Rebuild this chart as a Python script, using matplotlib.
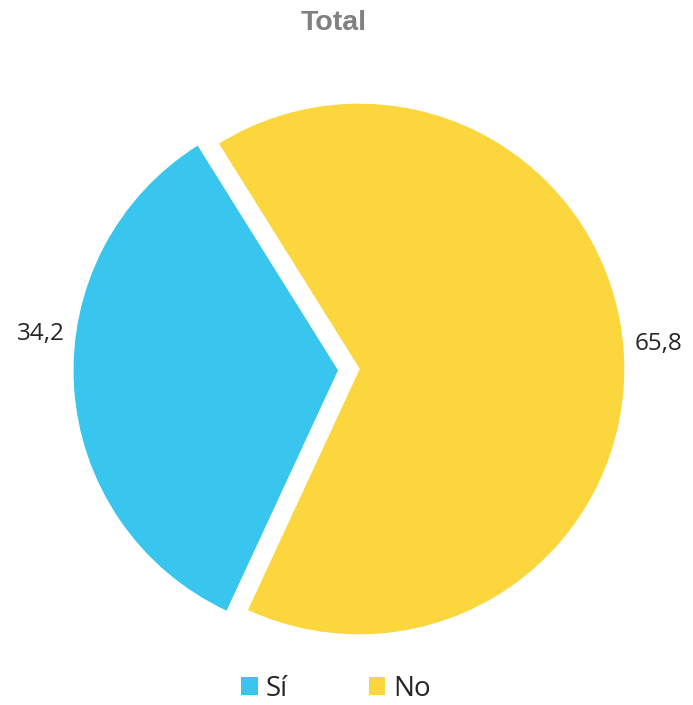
import numpy as np
import matplotlib
matplotlib.use("Agg")
import matplotlib.pyplot as plt
from matplotlib.patches import Rectangle

categories = ["Sí", "No"]
values = [34.2, 65.8]
value_labels = ["34,2", "65,8"]
colors = ["#38C5EE", "#FBD63C"]

W, H = 693, 705
fig = plt.figure(figsize=(W / 100, H / 100), dpi=100)
ax = fig.add_axes([0, 0, 1, 1])

wedges, _ = ax.pie(values, colors=colors, startangle=122, counterclock=True,
                   explode=[0.076, 0.0], radius=1.0,
                   wedgeprops=dict(edgecolor="white", linewidth=1.0))

R = 266.0  # px per unit radius
cx, cy = 359, 369  # pixel centre of pie
ax.set_aspect("equal", adjustable="box")
ax.set_xlim(-cx / R, (W - cx) / R)
ax.set_ylim(-(H - cy) / R, cy / R)
ax.axis("off")

# data labels, outside each slice
label_dist = 1.13
angle_shift = [-10.5, 1.2]
for w, txt, sh in zip(wedges, value_labels, angle_shift):
    mid = np.deg2rad((w.theta1 + w.theta2) / 2 + sh)
    c = w.center
    x = c[0] + label_dist * np.cos(mid)
    y = c[1] + label_dist * np.sin(mid)
    ax.text(x, y, txt, ha="center", va="center", fontsize=17.5,
            family="Open Sans", color="#262626")

fig.text(334 / W, 1 - 23 / H, "Total", ha="center", va="center",
         fontsize=20.5, fontweight="bold", family="Liberation Sans",
         color="#808080")

handles = [Rectangle((0, 0), 1, 1, facecolor=c, edgecolor="none") for c in colors]
leg = fig.legend(handles, categories, loc="center", ncol=2,
                 bbox_to_anchor=(336 / W, 1 - 689 / H), frameon=False,
                 prop=dict(family="Open Sans", size=20),
                 handlelength=0.6, handleheight=0.6, handletextpad=0.3,
                 columnspacing=2.9, borderpad=0)
for t in leg.get_texts():
    t.set_color("#262626")

fig.savefig("out.png", dpi=100, facecolor="white")
